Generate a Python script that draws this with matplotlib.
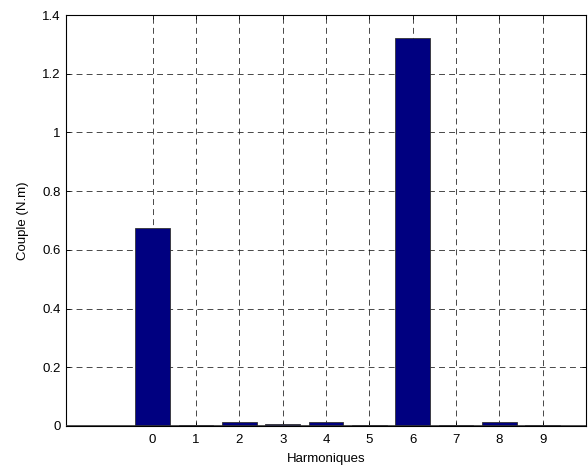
import matplotlib.pyplot as plt

plt.rcParams['font.family'] = ['Liberation Sans', 'DejaVu Sans']

# harmonic rank and torque amplitude (N.m)
harmoniques = [0, 1, 2, 3, 4, 5, 6, 7, 8, 9]
couple = [0.675, 0.003, 0.012, 0.007, 0.012, 0.003, 1.321, 0.003, 0.012, 0.003]

fig = plt.figure(figsize=(5.88, 4.74), dpi=100)
ax = fig.add_axes([66 / 588, 1 - 426 / 474, 520 / 588, 411 / 474])

ax.bar(harmoniques, couple, width=0.8, color='#000080', edgecolor='#333333',
       linewidth=0.6, zorder=3)
ax.axhline(0, color='#333333', linewidth=1.2, zorder=4)

ax.set_xlim(-2, 10)
ax.set_ylim(0, 1.4)
ax.set_xticks(harmoniques)
ax.set_yticks([0, 0.2, 0.4, 0.6, 0.8, 1, 1.2, 1.4])
ax.set_yticklabels(['0', '0.2', '0.4', '0.6', '0.8', '1', '1.2', '1.4'])
ax.grid(True, color='black', linestyle=(0, (8.5, 6)), linewidth=0.5, zorder=0)
ax.tick_params(labelsize=9.5, direction='in', length=3, width=0.6, top=True, right=True)
ax.tick_params(axis='x', pad=6)
ax.tick_params(axis='y', pad=4)
for s in ax.spines.values():
    s.set_linewidth(0.8)

ax.set_xlabel('Harmoniques', fontsize=9.5, labelpad=5)
ax.set_ylabel('Couple (N.m)', fontsize=9.5, labelpad=9)

fig.savefig('out.png', dpi=100)
